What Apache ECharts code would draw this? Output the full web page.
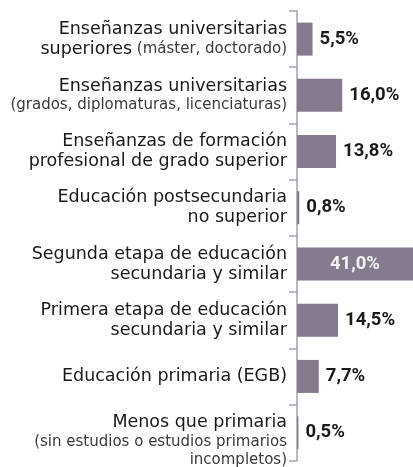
<!DOCTYPE html>
<html>
<head>
<meta charset="utf-8">
<script src="https://cdn.jsdelivr.net/npm/echarts@6/dist/echarts.min.js"></script>
<style>
html,body{margin:0;padding:0;background:#fff;}
#chart{width:413px;height:467px;}
</style>
</head>
<body>
<div id="chart"></div>
<script>
const categoryMain = [
  "Enseñanzas universitarias\nsuperiores",
  "Enseñanzas universitarias",
  "Enseñanzas de formación\nprofesional de grado superior",
  "Educación postsecundaria\nno superior",
  "Segunda etapa de educación\nsecundaria y similar",
  "Primera etapa de educación\nsecundaria y similar",
  "Educación primaria (EGB)",
  "Menos que primaria"
];
const categoryNote = [
  " (máster, doctorado)",
  "\n(grados, diplomaturas, licenciaturas)",
  "",
  "",
  "",
  "",
  "",
  "\n(sin estudios o estudios primarios\nincompletos)"
];
const values = [5.5, 16.0, 13.8, 0.8, 41.0, 14.5, 7.7, 0.5];

const maxVal = Math.max(...values);
const fmtPct = v => v.toFixed(1).replace('.', ',') + '%';
const categories = categoryMain.map((m, i) => m + '\u0001' + categoryNote[i]);

function wrap(style, text) {
  return text.split('\n').map(p => p ? '{' + style + '|' + p + '}' : '').join('\n');
}
function labelFmt(text) {
  const [main, note] = text.split('\u0001');
  return wrap('m', main) + (note ? wrap('s', note) : '');
}
// three-line labels sit a little lower in their band
const yData = categories.map(c => {
  const lines = c.split(/\n/).length;
  return lines > 2 ? {value: c, textStyle: {padding: [16, 0, 0, 0]}} : c;
});

const chart = echarts.init(document.getElementById('chart'), null, {renderer: 'canvas'});
chart.setOption({
  backgroundColor: '#ffffff',
  animation: false,
  grid: {left: 297, right: 0, top: 11, bottom: 4, containLabel: false},
  xAxis: {type: 'value', min: 0, max: 41, show: false},
  yAxis: {
    type: 'category',
    inverse: true,
    data: yData,
    axisLine: {show: true, lineStyle: {color: '#a69fae', width: 1.5}},
    axisTick: {show: true, length: 8, lineStyle: {color: '#a69fae', width: 1.5}},
    axisLabel: {
      margin: 10,
      align: 'right',
      formatter: labelFmt,
      rich: {
        m: {fontFamily: 'DejaVu Sans', fontSize: 17.5, color: '#1a1a1a', lineHeight: 20},
        s: {fontFamily: 'DejaVu Sans', fontSize: 15, color: '#3a3a3a', lineHeight: 18}
      }
    }
  },
  series: [{
    type: 'bar',
    barWidth: 33,
    itemStyle: {color: '#857a8e'},
    label: {
      show: true,
      position: 'right',
      distance: 7,
      fontFamily: 'Roboto',
      fontWeight: 'bold',
      fontSize: 18.5,
      color: '#1a1a1a',
      formatter: p => fmtPct(p.value)
    },
    data: values.map(v => v === maxVal
      ? {value: v, label: {position: 'inside', color: '#f2f2f2'}}
      : v)
  }]
});
</script>
</body>
</html>
